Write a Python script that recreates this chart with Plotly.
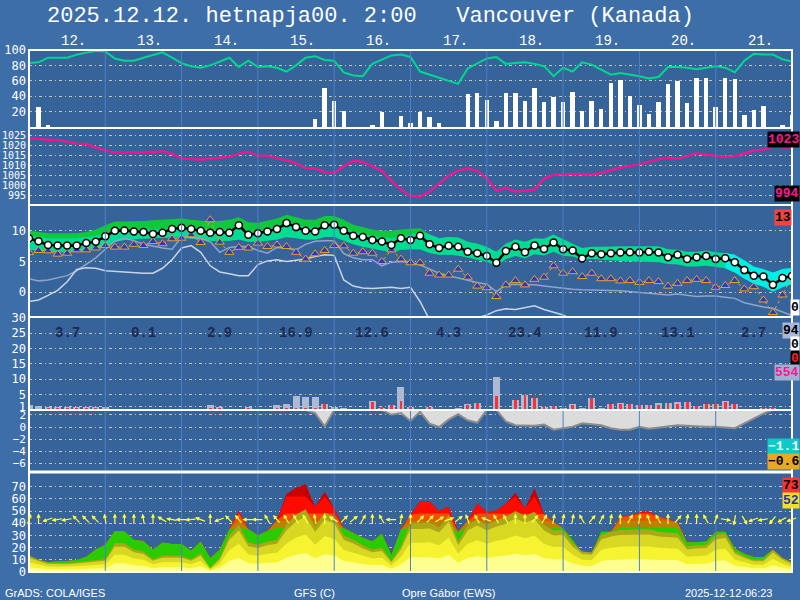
import math
import plotly.graph_objects as go
from plotly.subplots import make_subplots

# ---------------- data (3-hourly steps from 12 Dec 00h) ----------------
hours = list(range(0, 241, 3))
day_labels = ["12.", "13.", "14.", "15.", "16.", "17.", "18.", "19.", "20.", "21."]
day_totals = ["3.7", "0.1", "2.9", "16.9", "12.6", "4.3", "23.4", "11.9", "13.1", "2.7"]

rel_hum = [83,84,90,90,90,94,97,99,98,89, 86,86,90,94,97,90,83,79,77,80,
           85,90,78,86,78,79,77,72,80,90, 92,87,86,71,67,66,82,87,93,94,
           91,72,68,64,60,56,76,83,89,91, 82,83,84,82,79,66,77,72,84,81,
           75,68,70,68,66,63,65,78,78,77, 75,77,79,77,71,86,95,94,94,88, 85]
cloud_bars = [0,26,2,0,0,0,0,0,0,0, 0,0,0,0,0,0,0,0,0,0, 0,0,0,0,0,0,0,0,0,0,
              10,51,34,21,0,0,2,19.5,0,14, 5.5,19.5,12.6,5.5,0,0,43,44.5,35,8,
              44.5,44.5,34,51,33,39,33,46,21,34, 24,57.5,61,40,28.5,17,33,56,60,31.5,
              64,63,26,64,62,15,22,27,0,2, 15.6]
pressure = [1023.4,1023.4,1022.9,1022.9,1022,1021.1,1020.8,1019.2,1017.6,1016.7,
            1016.7,1016.7,1017,1016.8,1017.3,1015.9,1013.6,1013.2,1013,1013.4,
            1014.1,1014.5,1016,1016.9,1015,1015,1013.7,1012.7,1011.3,1008.8,
            1008.7,1006.7,1006.4,1009.7,1012.4,1011.9,1009.7,1007.4,1002.5,998,
            995,994.5,997,1001,1005,1007.6,1008.6,1007.4,1003.7,997.5,
            999,997,997.4,998,1003.6,1005.4,1005.7,1005.9,1005.6,1005.5,
            1006.4,1007.8,1009,1009.8,1010.7,1012,1013.3,1014,1013.5,1014.8,
            1016.2,1015.5,1015,1014.4,1014.8,1016.1,1017.5,1018,1019.5,1019.3, 1019]
temp = [8.8,8.3,7.7,7.6,7.6,7.6,8.0,8.2,9.1,10.0, 10.05,9.9,9.8,9.5,9.7,10.3,10.5,10.3,10.0,9.7,
        9.8,9.7,10.9,9.35,9.6,9.9,10.3,11.25,10.6,10.0, 9.9,10.9,11.0,10.0,9.2,9.0,8.5,8.25,7.7,8.8,
        8.5,9.2,7.8,7.2,7.55,7.4,6.6,6.35,5.9,4.8, 6.7,7.4,6.5,7.6,7.05,8.1,7.0,6.8,5.5,6.35,
        6.2,6.35,6.45,6.5,6.45,6.6,6.45,5.7,6.1,5.4, 5.7,5.9,5.4,5.55,4.9,3.6,2.7,2.55,1.2,2.3, 2.65]
ens_max = [10.0,9.8,9.6,9.6,9.6,9.6,9.8,10.2,10.9, 11.5,11.5,11.5,11.6,11.7,11.8,12.0,12.0,
           11.8,11.6,11.5,11.6,11.8,12.2,11.4,11.3, 11.6,12.0,12.6,12.2,11.8,11.8,12.4,12.4,
           11.8,11.0,10.6,10.2,10.0,10.0,10.2,10.3, 10.4,9.4,8.8,9.0,8.9,8.2,7.9,7.4,
           6.6,7.9,8.6,8.2,8.8,8.7,9.4,8.6, 7.9,7.2,7.4,7.4,7.5,7.5,7.5,7.5,
           7.5,7.5,7.0,6.9,6.6,6.6,6.8,6.5, 6.4,6.1,5.2,4.2,3.8,3.2,3.8,4.0]
ens_min = [6.9,6.7,6.6,6.5,6.5,6.6,6.8,7.0,7.3, 8.2,8.5,8.6,8.7,8.8,8.9,8.9,8.9,
           8.8,8.6,8.4,8.3,8.4,8.6,8.2,8.2, 8.4,8.6,9.0,8.8,8.6,8.6,9.0,9.0,
           8.4,7.8,7.4,7.0,6.8,6.5,6.9,7.0, 7.0,6.4,6.1,6.1,6.0,5.6,5.3,5.0,
           4.1,5.4,5.9,5.5,6.2,6.0,6.6,5.9, 5.8,5.3,5.4,5.3,5.2,5.1,5.0,5.0,
           5.0,4.9,4.6,4.5,4.2,4.2,4.3,4.1, 3.9,3.2,2.2,1.4,0.9,0.1,0.8,1.3]
ens_q75 = [9.2,9.0,8.8,8.8,8.8,8.8,9.0,9.2,9.6, 10.0,10.2,10.2,10.2,10.2,10.3,10.6,10.8,
           10.6,10.4,10.2,10.2,10.3,10.8,10.0,10.0, 10.3,10.7,11.3,11.0,10.6,10.5,11.0,11.2,
           10.6,9.9,9.6,9.2,9.0,8.8,9.2,9.3, 9.8]
dew = [6.45,6.8,6.75,6.2,6.35,6.9,6.9,7.2,7.6,7.35, 7.35,7.8,7.6,8.25,7.9,8.7,8.8,9.35,8.1,11.8,
       8.15,6.5,7.3,7.2,8.0,7.45,7.7,7.45,6.5,5.4, 6.25,6.8,7.6,7.55,6.35,6.6,6.35,5.0,6.9,5.4,
       4.8,4.8,3.1,2.8,2.8,3.75,2.45,1.0,0.75,-0.7, 1.2,1.9,1.2,2.1,2.45,4.3,3.1,3.35,2.55,3.1,
       2.2,2.2,1.85,1.9,1.6,1.9,1.75,1.0,1.45,1.9, 2.1,1.9,0.8,1.1,1.9,0.55,0.9,-1.25,-3.3,-0.45, 2.55]
t850 = [2.2,1.85,2.0,2.3,2.7,3.5,4.5,5.6,7.0,8.3, 8.8,8.4,7.8,7.45,7.2,7.0,9.0,8.9,8.8,8.2,
        6.5,7.3,7.45,7.45,6.8,6.35,7.3,7.2,6.9,7.8, 8.3,8.4,8.4,6.3,5.6,5.3,5.3,4.3,4.9,5.0,
        4.8,4.45,3.8,3.1,2.7,2.3,1.9,1.6,1.3,0.1, 1.2,1.3,1.2,1.2,1.0,0.8,0.6,0.5,0.4,0.4,
        0.4,0.3,0.25,0.1,-0.05,-0.2,-0.4,-0.45,-0.3,-0.5, -0.7,-0.6,-0.6,-0.8,-1.0,-1.7,-2.1,-2.4,-2.6,-3.2, -3.8]
t_min = [-1.5,-1.25,-0.5,0.3,1.7,3.7,4.0,3.9,3.5,3.4, 3.3,3.1,3.1,3.1,3.9,5.3,7.2,7.6,6.5,4.3,
         3.3,3.0,2.7,2.7,4.5,5.1,5.3,5.0,5.2,5.4, 5.8,6.1,6.0,2.0,1.0,0.7,0.6,0.7,0.8,0.6,
         0.8,-1.5,-4.5,-5.5,-6.0,-6.0,-5.0,-4.2,-3.7,-3.0, -2.7,-2.8,-2.5,-2.2,-2.8,-3.3,-3.7,-4.5,-5.0,-5.5,
         -6.0,-6.0,-6.0,-6.0,-6.0,-6.0,-6.0,-6.0,-6.0,-6.0, -6.0,-6.0,-6.0,-6.0,-6.0,-6.0,-6.0,-6.0,-6.0,-6.0, -6.0]
precip_total = [1.6,1.3,1.1,1.1,0.9,0.9,1.1,0.9,0.9,0, 0,0,0,0,0,0,0,0,0,1.6,
                1.1,0,0,1.1,0,0,1.6,2.0,4.5,4.3, 4.3,2.0,1.1,0.6,0,0,3.0,0.8,1.6,7.5,
                0.9,0,0.9,0,0,0.5,1.8,2.4,0,10.8, 0,3.2,4.9,4.0,1.1,1.4,0.5,1.8,0.5,4.0,
                0.7,2.0,2.4,2.0,1.6,1.6,2.2,2.3,2.7,2.5, 1.4,2.0,2.0,3.0,2.0,0,0,0.7,0.5,0, 0]
precip_rain = [0,0,0.4,0.4,0.4,0.4,0.4,0.4,0.3,0, 0,0,0,0,0,0,0,0,0,0.4,
               0.4,0,0,0.4,0,0,0.4,0.4,0.4,0.4, 0.4,1.8,0,0,0,0,2.6,1.0,1.5,3.0,
               1.0,0,1.0,0,0,0,1.6,2.4,0,4.5, 0,3.2,4.9,3.8,1.0,1.2,0,1.6,0,3.8,
               0,2.0,1.9,2.0,1.6,1.6,1.6,2.3,1.9,2.5, 1.3,2.0,2.0,2.6,2.0,0,0,0.6,0.5,0, 0]
lower_curve = [2.8]*30 + [2.3,0.1,2.8,2.8,2.8,2.8,2.8,2.8,2.0,2.3,
               1.0,2.5,0.55,0.0,1.2,2.1,1.1,0.7,2.8,2.8,
               0.9,0.3,0.25,0.2,0.4,-0.45,-0.2,0.05,0.6,0.5,
               0.3,-0.2,-0.45,-0.45,0.05,-0.3,-0.1,0.2,0.3,0.2,
               0.1,0.05,0.05,-0.1,-0.2,0.6,1.4,2.2,2.8,2.8, 2.8]
gust = [13.3,9.8,8.2,8.4,9.0,9.8,12.5,18.5,22.3,33.7, 33.5,26.3,25.5,18.2,24.2,23,23,17.5,25,11.4,
        18.2,35,50,35,30.2,33.7,42.7,64,69,72, 53.6,65.9,52.3,36,32,28,25,31.3,14,35,
        47,57.7,57.7,50,53.6,33.1,42,56,49.5,50.5, 56,65,52.3,68.7,47.5,41,35.9,26.3,15.4,15.4,
        33,33.1,45,46,49.2,49.5,45.6,43,40.5,24.2, 24.6,25,33,33.1,19.5,15,12.2,12.2,18.2,11.4, 8]
wind = [13.3,10,7.5,7.3,7.3,8.0,8.8,9.5,10.5,23.6, 23.6,18.4,16.8,10.5,13.3,13.3,13.3,10.5,15.4,3.2,
        11.4,30,38.6,24,22.3,25,26.3,39,47,51.4, 37.3,48.7,45.4,30,26.5,22,18.5,19.6,9,21,
        40,40,40.5,36.7,46.8,25,38.6,43.3,38.6,42.5, 45,50,46,49.5,38.6,34,34.5,23.6,16.8,16,
        30.4,33.1,34.5,34.8,35,35,33.1,32.5,31.8,20.9, 22,22.3,30.4,31.8,17,13,10,10,18.2,11.4, 7.3]
wind_dir = [20,0,250,260,260,315,315,315,350,0, 0,0,350,0,300,280,270,265,290,0,
            250,315,320,270,270,330,320,330,330,330, 350,0,300,45,50,30,0,330,270,10,
            0,45,45,60,70,50,340,330,290,330, 330,0,0,40,30,10,10,10,330,40,
            30,10,0,30,10,340,330,0,40,10, 0,330,20,100,190,150,250,260,220,240, 250]
right_labels = [("1023", 800, 139, "#ff1493", "#000000"),
                ("994", 800, 193, "#ff1493", "#000000"),
                ("13", 792, 217, "#000000", "#ff4040"),
                ("0", 800, 307, "#000000", "#ffffff"),
                ("94", 800, 330, "#000000", "#a8b8d8"),
                ("0", 800, 344, "#000000", "#ffffff"),
                ("0", 800, 358, "#ff2020", "#000000"),
                ("554", 800, 372, "#ff1493", "#a0b0d0"),
                ("\u22121.1", 800, 446, "#ffffff", "#10c8c8"),
                ("\u22120.6", 800, 461, "#000000", "#e8a820"),
                ("73", 800, 485, "#000000", "#ff3030"),
                ("52", 800, 500, "#2030c0", "#f0e020")]

# ---------------- layout geometry ----------------
OUTER = "#3e6ea8"
INNER = "#36639a"
GRID = "#c4c4b4"
L_PX, R_PX, T_PX, B_PX = 29, 792, 50, 572
W_PX, H_PX = R_PX - L_PX, B_PX - T_PX
panel_px = [78, 77, 112, 93, 62, 100]
MONO = "Liberation Mono"


def px_x(p):
    return (p - L_PX) / W_PX


def px_y(p):
    return (B_PX - p) / H_PX


fig = make_subplots(rows=6, cols=1, shared_xaxes=True, vertical_spacing=0,
                    row_heights=panel_px)

# panel 1: humidity + bars
fig.add_trace(go.Bar(x=hours, y=cloud_bars, width=1.4, marker=dict(color="white", line=dict(width=0))), row=1, col=1)
fig.add_trace(go.Scatter(x=hours, y=rel_hum, mode="lines", line=dict(color="#00d890", width=2)), row=1, col=1)

# panel 2: pressure
fig.add_trace(go.Scatter(x=hours, y=pressure, mode="lines", line=dict(color="#ff1090", width=2.2)), row=2, col=1)


def band(xs, lo, hi, color, row):
    fig.add_trace(go.Scatter(x=list(xs) + list(xs)[::-1], y=list(hi) + list(lo)[::-1],
                             fill="toself", fillcolor=color, mode="lines",
                             line=dict(width=0), hoverinfo="skip"), row=row, col=1)


# panel 3: temperatures
n_mid = len(ens_q75)
teal_hi = list(ens_q75) + ens_max[n_mid:]
band(hours[:49], ens_min[:49], ens_max[:49], "#10c83c", 3)
band(hours[:75], ens_min[:75], teal_hi[:75], "#00dc94", 3)
band(hours[73:], ens_min[73:], ens_max[73:], "#00eee4", 3)
fig.add_trace(go.Scatter(x=hours, y=t850, mode="lines", line=dict(color="#8ea4c8", width=1.5)), row=3, col=1)
fig.add_trace(go.Scatter(x=hours, y=t_min, mode="lines", line=dict(color="#c8d4e6", width=1.5)), row=3, col=1)
fig.add_trace(go.Scatter(x=hours, y=dew, mode="lines+markers",
                         line=dict(color="#f0a020", width=1, dash="dot"),
                         marker=dict(symbol="triangle-up", size=8, color="#2838c8",
                                     line=dict(color="#f0a020", width=1))), row=3, col=1)
fig.add_trace(go.Scatter(x=hours, y=temp, mode="lines+markers",
                         line=dict(color="black", width=2.5),
                         marker=dict(symbol="circle", size=7, color="white",
                                     line=dict(color="black", width=1.5))), row=3, col=1)

# panel 4: precipitation bars
fig.add_trace(go.Bar(x=hours, y=precip_total, width=2.2, marker=dict(color="#aebad4", line=dict(width=0))), row=4, col=1)
fig.add_trace(go.Bar(x=hours, y=precip_rain, width=0.9, marker=dict(color="#ff3030", line=dict(width=0))), row=4, col=1)

# panel 5: lower curve
P5_TOP = 2.79
band(hours, lower_curve, [P5_TOP] * len(hours), "#dcdcdc", 5)
fig.add_trace(go.Scatter(x=hours, y=lower_curve, mode="lines", line=dict(color="#8c8c8c", width=2)), row=5, col=1)

# panel 6: wind / gusts
for lvl, col in [(None, "#c80000"), (62, "#ff0a00"), (48, "#f05000"), (42, "#b88400"), (36, "#28cc00")]:
    ys = gust if lvl is None else [min(g, lvl) for g in gust]
    fig.add_trace(go.Scatter(x=hours, y=ys, mode="lines", line=dict(width=0),
                             fill="tozeroy", fillcolor=col), row=6, col=1)
for frac, col in [(1.0, "#aaa818"), (0.88, "#d8d822"), (0.6, "#f6f430"), (0.3, "#ffff90")]:
    fig.add_trace(go.Scatter(x=hours, y=[w * frac for w in wind], mode="lines", line=dict(width=0),
                             fill="tozeroy", fillcolor=col), row=6, col=1)

fig.update_traces(showlegend=False, hoverinfo="skip")

# axes
ranges = [[-1.3, 100], [990.35, 1028.85], [-4.03, 14.2], [0, 30.2], [-7.38, P5_TOP], [0, 82]]
ticks = [[20, 40, 60, 80, 100], list(range(990, 1030, 5)), [0, 5, 10],
         [1, 5, 10, 15, 20, 25, 30], [2, 0, -2, -4, -6], list(range(0, 80, 10))]
tick_sizes = [12, 10, 12, 12, 11, 12]
for r in range(6):
    fig.update_yaxes(range=ranges[r], tickvals=ticks[r], showgrid=True, gridcolor=GRID,
                     griddash="3px,3px,1px,3px", gridwidth=1, zeroline=False, ticks="",
                     automargin=False, ticklabelstandoff=2,
                     tickfont=dict(family="DejaVu Sans Mono", size=tick_sizes[r], color="white"),
                     row=r + 1, col=1)
    fig.update_xaxes(range=[0, 240], showticklabels=False, showgrid=False, zeroline=False,
                     ticks="", automargin=False, row=r + 1, col=1)

shapes = []
for d in range(1, 10):
    shapes.append(dict(type="line", xref="x", yref="paper", x0=24 * d, x1=24 * d, y0=0, y1=1,
                       line=dict(color="#4a80c6", width=1), layer="above"))
for sep in [128, 205, 317, 410]:
    shapes.append(dict(type="line", xref="paper", yref="paper", x0=0, x1=1, y0=px_y(sep), y1=px_y(sep),
                       line=dict(color="white", width=2), layer="above"))
shapes.append(dict(type="line", xref="paper", yref="paper", x0=0, x1=1, y0=px_y(472), y1=px_y(472),
                   line=dict(color="white", width=3), layer="above"))
shapes.append(dict(type="rect", xref="paper", yref="paper", x0=0, x1=1, y0=0, y1=1,
                   line=dict(color="white", width=2), layer="above"))

ann = []
ann.append(dict(text="2025.12.12. hetnapja00. 2:00   Vancouver (Kanada)", xref="paper", yref="paper",
                x=px_x(45), y=px_y(17), xanchor="left", yanchor="middle", showarrow=False,
                font=dict(family=MONO, size=22, color="white")))
for k, lab in enumerate(day_labels):
    ann.append(dict(text=lab, xref="x", yref="paper", x=14 + 24 * k, y=px_y(41),
                    xanchor="center", yanchor="middle", showarrow=False,
                    font=dict(family=MONO, size=14, color="white")))
for k, lab in enumerate(day_totals):
    ann.append(dict(text="<b>" + lab + "</b>", xref="x4", yref="y4", x=12 + 24 * k, y=25.1,
                    xanchor="center", yanchor="middle", showarrow=False,
                    font=dict(family=MONO, size=14, color="#1c2a52")))
for txt, rx, cy, fg, bg in right_labels:
    ann.append(dict(text="<b>" + txt + "</b>", xref="paper", yref="paper", x=px_x(rx), y=px_y(cy),
                    xanchor="right", yanchor="middle", showarrow=False, bgcolor=bg, borderpad=0,
                    font=dict(family=MONO, size=13, color=fg)))
for txt, lx in [("GrADS: COLA/IGES", 3), ("GFS (C)", 292), ("Opre G\u00e1bor (EWS)", 400),
                ("2025-12-12-06:23", 683)]:
    ann.append(dict(text=txt, xref="paper", yref="paper", x=px_x(lx), y=px_y(593),
                    xanchor="left", yanchor="middle", showarrow=False,
                    font=dict(family="Liberation Sans", size=11, color="white")))

# wind arrows
ARROW_Y = 43
L = 12
px_per_h = W_PX / 240
px_per_w = 100 / 82
for h, th in zip(hours, wind_dir):
    s, c = math.sin(math.radians(th)), math.cos(math.radians(th))
    ann.append(dict(x=h + (L / 2) * s / px_per_h, y=ARROW_Y + (L / 2) * c / px_per_w,
                    xref="x6", yref="y6", ax=-L * s, ay=L * c, showarrow=True, text="",
                    arrowhead=2, arrowsize=0.7, arrowwidth=1.2, arrowcolor="#ffff3c"))

fig.update_layout(width=800, height=600, autosize=False,
                  margin=dict(l=L_PX, r=800 - R_PX, t=T_PX, b=600 - B_PX, autoexpand=False),
                  paper_bgcolor=OUTER, plot_bgcolor=INNER, barmode="overlay", bargap=0,
                  showlegend=False, shapes=shapes, annotations=ann)

fig.write_html("out.html", config={"displayModeBar": False},
               post_script="document.body.style.margin='0';document.body.style.overflow='hidden';")
